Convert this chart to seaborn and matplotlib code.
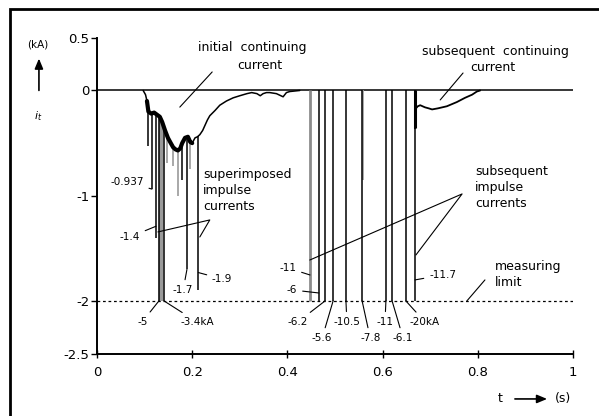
import numpy as np
import pandas as pd
import matplotlib
matplotlib.use("Agg")
import matplotlib.pyplot as plt
import seaborn as sns
from matplotlib.patches import Rectangle, FancyArrowPatch

# ---------------- data ----------------
# initial continuing current (t in s, i in kA)
cc1_t = [0.097, 0.102, 0.105, 0.108, 0.114, 0.120, 0.126, 0.132, 0.137, 0.143,
         0.149, 0.155, 0.160, 0.165, 0.170, 0.175, 0.179, 0.185, 0.191, 0.196,
         0.200, 0.206, 0.211, 0.216, 0.222, 0.227, 0.232, 0.237, 0.248, 0.258,
         0.272, 0.286, 0.300, 0.315, 0.325, 0.336, 0.343, 0.349, 0.356, 0.363,
         0.377, 0.391, 0.398, 0.405, 0.426]
cc1_i = [0.0, -0.04, -0.10, -0.20, -0.22, -0.21, -0.23, -0.25, -0.30, -0.38,
         -0.45, -0.50, -0.54, -0.56, -0.57, -0.55, -0.50, -0.45, -0.44, -0.49,
         -0.50, -0.45, -0.44, -0.42, -0.38, -0.33, -0.28, -0.24, -0.19, -0.14,
         -0.10, -0.07, -0.05, -0.03, -0.02, -0.03, -0.05, -0.03, -0.02, -0.02,
         -0.03, -0.06, -0.02, -0.01, 0.0]

# subsequent continuing current
cc2_t = [0.668, 0.670, 0.674, 0.679, 0.689, 0.697, 0.704, 0.716, 0.735, 0.756,
         0.773, 0.788, 0.798, 0.805]
cc2_i = [-0.36, -0.17, -0.15, -0.14, -0.16, -0.17, -0.18, -0.17, -0.15, -0.11,
         -0.07, -0.04, -0.01, 0.0]

# superimposed impulse currents (peak values, kA)
sup_t = [0.107, 0.1155, 0.124, 0.130, 0.141, 0.179, 0.189, 0.213]
sup_peak = [-0.53, -0.937, -1.4, -5.0, -3.4, -0.85, -1.7, -1.9]
# faint (grey) superimposed traces
faint_t = [0.1355, 0.147, 0.160, 0.170, 0.196, 0.559]
faint_peak = [-5.0, -0.69, -0.72, -1.0, -0.75, -0.85]

# subsequent impulse currents (peak values, kA)
sub_t = [0.4475, 0.466, 0.479, 0.496, 0.523, 0.557, 0.607, 0.620, 0.649, 0.668]
sub_peak = [-11, -6, -6.2, -5.6, -10.5, -7.8, -11, -6.1, -20, -11.7]
sub_labels = ["-11", "-6", "-6.2", "-5.6", "-10.5", "-7.8", "-11", "-6.1", "-20kA", "-11.7"]

measuring_limit = -2.0

x_ticks = [0, 0.2, 0.4, 0.6, 0.8, 1.0]
x_ticklabels = ["0", "0.2", "0.4", "0.6", "0.8", "1"]
y_ticks = [0.5, 0, -1, -2, -2.5]
y_ticklabels = ["0.5", "0", "-1", "-2", "-2.5"]

# ---------------- style ----------------
sns.set_style("ticks")
plt.rcParams['font.family'] = ['DejaVu Sans']
plt.rcParams['text.color'] = 'black'
plt.rcParams['xtick.color'] = 'black'
plt.rcParams['ytick.color'] = 'black'
plt.rcParams['axes.labelcolor'] = 'black'

fig = plt.figure(figsize=(5.99, 4.16), dpi=100)
ax = fig.add_axes([0.1619, 0.150, 0.7947, 0.759])

ax.set_xlim(0, 1)
ax.set_ylim(-2.5, 0.5)

# zero line and measuring limit
ax.axhline(0, color="black", lw=1.1, zorder=2)
ax.axhline(measuring_limit, color="black", lw=0.9, ls=(0, (2.2, 2.2)), zorder=2)

# continuing currents
df1 = pd.DataFrame({"t": cc1_t, "i": cc1_i})
df2 = pd.DataFrame({"t": cc2_t, "i": cc2_i})
sns.lineplot(data=df1, x="t", y="i", ax=ax, color="black", lw=1.1,
             sort=False, estimator=None, zorder=4)
thick = df1[(df1.t >= 0.105) & (df1.t <= 0.205)]
sns.lineplot(data=thick, x="t", y="i", ax=ax, color="black", lw=3.0,
             sort=False, estimator=None, zorder=4)
sns.lineplot(data=df2, x="t", y="i", ax=ax, color="black", lw=1.3,
             sort=False, estimator=None, zorder=4)

# impulse spikes (clipped at measuring limit, starting from the continuing current)
def start_level(t):
    return np.interp(t, cc1_t, cc1_i, left=0.0, right=0.0)

faint_t_a = np.array(faint_t)
faint_v = np.clip(faint_peak, measuring_limit, 0)
fw = [3.2, 1.2, 1.2, 1.2, 1.2, 1.2]
for t, v, w in zip(faint_t_a, faint_v, fw):
    ax.vlines(t, start_level(t), v, color="#9a9a9a", lw=w, zorder=3)

sup_v = np.clip(sup_peak, measuring_limit, 0)
for t, v in zip(sup_t, sup_v):
    ax.vlines(t, start_level(t), v, color="black", lw=1.1, zorder=5)

sub_v = np.clip(sub_peak, measuring_limit, 0)
for k, (t, v) in enumerate(zip(sub_t, sub_v)):
    col = "#8c8c8c" if k == 0 else "black"
    lw = 2.0 if k == 0 else 1.1
    ax.vlines(t, 0, v, color=col, lw=lw, zorder=5)
ax.vlines(sub_t[-1], 0, -0.36, color="black", lw=2.2, zorder=5)

# ---------------- value labels ----------------
lbl_fs = 7.5
lead = dict(arrowstyle="-", lw=0.8, color="black", shrinkA=1.5, shrinkB=0)

sup_label_specs = [
    ("-0.937", 1, -0.937, 0.063, -0.869),
    ("-1.4", 2, -1.29, 0.069, -1.392),
    ("-5", 3, -2.0, 0.095, -2.199),
    ("-3.4kA", 4, -2.0, 0.210, -2.199),
    ("-1.7", 6, -1.70, 0.181, -1.896),
    ("-1.9", 7, -1.73, 0.263, -1.791),
]
for txt, k, ya, tx, ty in sup_label_specs:
    ax.annotate(txt, xy=(sup_t[k], ya), xytext=(tx, ty), fontsize=lbl_fs,
                ha="center", va="center", arrowprops=lead, zorder=6)

sub_text_pos = [(0.401, -1.686), (0.410, -1.895), (0.422, -2.199), (0.473, -2.352),
                (0.525, -2.199), (0.574, -2.352), (0.605, -2.199), (0.643, -2.352),
                (0.689, -2.199), (0.726, -1.753)]
sub_anchor = [-1.753, -1.924, None, None, None, None, None, None, None, -1.80]
for k, (txt, (tx, ty)) in enumerate(zip(sub_labels, sub_text_pos)):
    ya = sub_v[k] if sub_anchor[k] is None else sub_anchor[k]
    ax.annotate(txt, xy=(sub_t[k], ya), xytext=(tx, ty), fontsize=lbl_fs,
                ha="center", va="center", arrowprops=lead, zorder=6)

# ---------------- descriptive annotations ----------------
ann_fs = 9
ax.text(0.326, 0.404, "initial  continuing", fontsize=ann_fs, ha="center", va="center")
ax.text(0.342, 0.242, "current", fontsize=ann_fs, ha="center", va="center")
ax.plot([0.174, 0.242], [-0.158, 0.176], color="black", lw=0.8)

ax.text(0.838, 0.366, "subsequent  continuing", fontsize=ann_fs, ha="center", va="center")
ax.text(0.832, 0.214, "current", fontsize=ann_fs, ha="center", va="center")
ax.plot([0.721, 0.769], [-0.090, 0.166], color="black", lw=0.8)

for j, w in enumerate(["superimposed", "impulse", "currents"]):
    ax.text(0.223, -0.803 - 0.152 * j, w, fontsize=ann_fs, ha="left", va="center")
ax.plot([0.128, 0.237, 0.216], [-1.344, -1.230, -1.392], color="black", lw=0.8, zorder=6)

for j, w in enumerate(["subsequent", "impulse", "currents"]):
    ax.text(0.794, -0.774 - 0.150 * j, w, fontsize=ann_fs, ha="left", va="center")
ax.plot([0.447, 0.767, 0.670], [-1.611, -0.983, -1.563], color="black", lw=0.8, zorder=6)

ax.text(0.836, -1.677, "measuring", fontsize=ann_fs, ha="left", va="center")
ax.text(0.836, -1.829, "limit", fontsize=ann_fs, ha="left", va="center")
ax.plot([0.777, 0.815], [-2.0, -1.80], color="black", lw=0.8)

# ---------------- axes ----------------
ax.set_xticks(x_ticks)
ax.set_xticklabels(x_ticklabels, fontsize=9.5)
ax.set_yticks(y_ticks)
ax.set_yticklabels(y_ticklabels, fontsize=9.5)
ax.tick_params(axis="x", direction="inout", length=6, width=1.0, pad=6, colors="black")
ax.tick_params(axis="y", direction="out", length=4, width=1.0, pad=1.5, colors="black")
ax.set_xlabel("")
ax.set_ylabel("")
for s in ["top", "right"]:
    ax.spines[s].set_visible(False)
for s in ["left", "bottom"]:
    ax.spines[s].set_linewidth(1.4)
    ax.spines[s].set_color("black")

# axis labels with arrows
fig.text(0.063, 0.892, "(kA)", fontsize=7.5, ha="center", va="center")
fig.add_artist(FancyArrowPatch((0.065, 0.776), (0.065, 0.866), transform=fig.transFigure,
                               arrowstyle="-|>,head_length=6,head_width=2.5",
                               color="black", lw=1.2))
fig.text(0.064, 0.722, r"$i_t$", fontsize=8, ha="center", va="center")

fig.text(0.835, 0.041, "t", fontsize=9, ha="center", va="center")
fig.add_artist(FancyArrowPatch((0.855, 0.041), (0.918, 0.041), transform=fig.transFigure,
                               arrowstyle="-|>,head_length=6,head_width=2.5",
                               color="black", lw=1.2))
fig.text(0.940, 0.041, "(s)", fontsize=9, ha="center", va="center")

# outer frame
fig.add_artist(Rectangle((10 / 599, -0.05), 1.2, 1 - 9 / 416 + 0.05,
                         transform=fig.transFigure, fill=False, lw=2.0,
                         edgecolor="black"))

fig.savefig("out.png", dpi=100)
